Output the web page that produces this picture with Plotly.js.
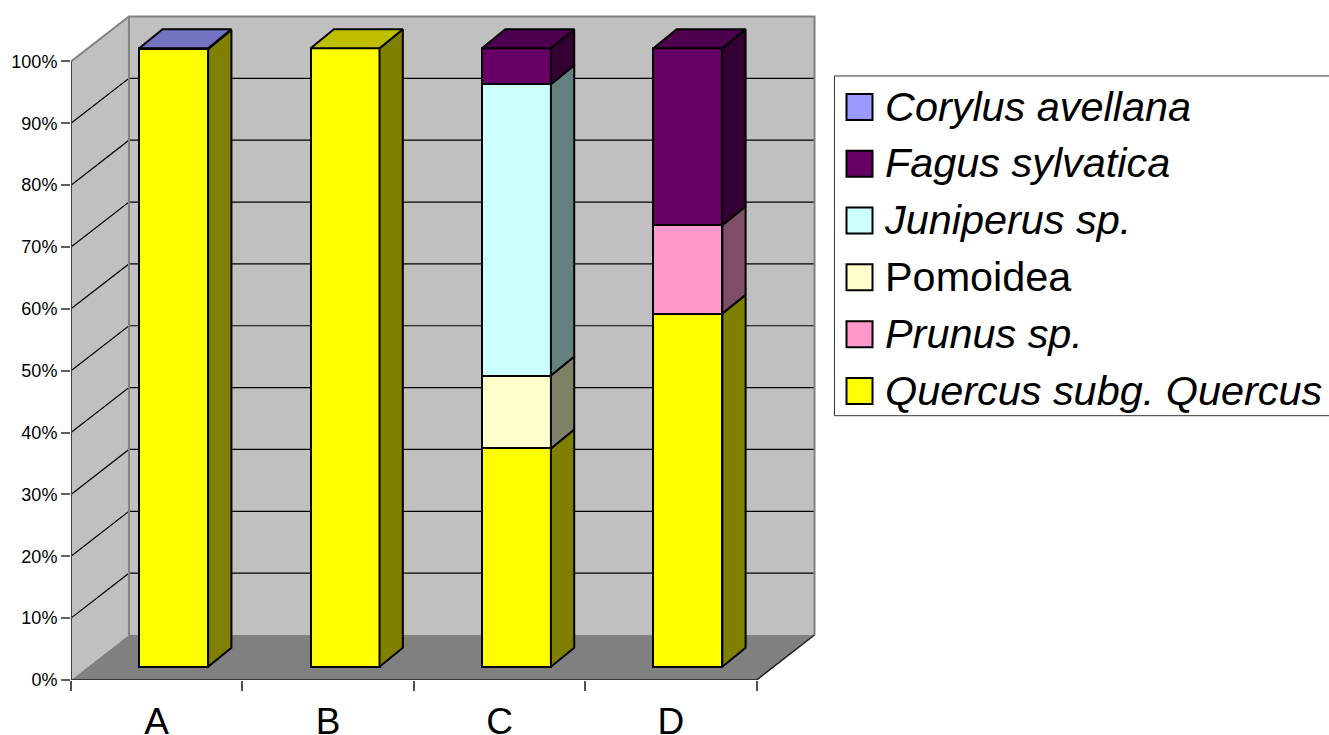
<!DOCTYPE html>
<html>
<head>
<meta charset="utf-8">
<script src="https://cdn.plot.ly/plotly-3.0.1.min.js"></script>
<style>html,body{margin:0;padding:0;background:#fff;overflow:hidden}</style>
</head>
<body>
<div id="chart" style="width:1329px;height:735px"></div>
<script>
// ---- data (percent of each sample) ----
const categories = ['A', 'B', 'C', 'D'];
const quercus   = [99.9, 100, 35.3, 57.1];
const prunus    = [0, 0, 0, 14.3];
const pomoidea  = [0, 0, 11.8, 0];
const juniperus = [0, 0, 47.1, 0];
const fagus     = [0, 0, 5.8, 28.6];
const corylus   = [0.1, 0, 0, 0];
const yTicks = [0, 10, 20, 30, 40, 50, 60, 70, 80, 90, 100];
const xBoundaries = [0, 1, 2, 3, 4];

const series = [
  {name: '<i>Quercus subg. Quercus</i>', v: quercus,   front: '#ffff00', side: '#808000', top: '#bfbf00'},
  {name: '<i>Prunus sp.</i>',            v: prunus,    front: '#ff99cc', side: '#804d66', top: '#bf7399'},
  {name: 'Pomoidea',                     v: pomoidea,  front: '#ffffcc', side: '#808066', top: '#bfbf99'},
  {name: '<i>Juniperus sp.</i>',         v: juniperus, front: '#ccffff', side: '#668080', top: '#99bfbf'},
  {name: '<i>Fagus sylvatica</i>',       v: fagus,     front: '#660066', side: '#330033', top: '#4d004d'},
  {name: '<i>Corylus avellana</i>',      v: corylus,   front: '#9999ff', side: '#4d4d80', top: '#7373bf'}
];

// ---- oblique projection, in axis units ----
const DX = 0.338, DY = 7.27;            // full floor depth
const barDX = 0.099, barDY = 2.13;      // front of bar, from the front plane
const sideDX = 0.136, sideDY = 3.07;    // depth of bar
const barW = 0.402;
const xMax = 4.370, yMax = 108.16;

const barCenter = i => i + 0.5 + barDX;
const cum = categories.map(() => 0);
const stackTop = categories.map((_, i) => {
  let t = -1; series.forEach((s, k) => { if (s.v[i] > 0) t = k; }); return t;
});

const barTraces = [], faceTraces = [];
series.forEach((s, k) => {
  const bx = [], by = [], bb = [];
  const sideX = [], sideY = [], topX = [], topY = [];
  categories.forEach((_, i) => {
    const val = s.v[i];
    if (!(val > 0)) return;
    const y0 = cum[i] + barDY, y1 = y0 + val;
    cum[i] += val;
    const xr = barCenter(i) + barW / 2, xl = barCenter(i) - barW / 2;
    bx.push(barCenter(i)); by.push(val); bb.push(y0);
    sideX.push(xr, xr + sideDX, xr + sideDX, xr, xr, null);
    sideY.push(y0, y0 + sideDY, y1 + sideDY, y1, y0, null);
    if (stackTop[i] === k) {
      topX.push(xl, xr, xr + sideDX, xl + sideDX, xl, null);
      topY.push(y1, y1, y1 + sideDY, y1 + sideDY, y1, null);
    }
  });
  barTraces.push({type: 'bar', name: s.name, x: bx, y: by, base: bb, width: barW,
    marker: {color: s.front, line: {color: '#000', width: 2}}, hoverinfo: 'skip'});
  [[sideX, sideY, s.side], [topX, topY, s.top]].forEach(f => {
    if (!f[0].length) return;
    faceTraces.push({type: 'scatter', mode: 'lines', x: f[0], y: f[1], fill: 'toself', fillcolor: f[2],
      line: {color: '#000', width: 2}, showlegend: false, hoverinfo: 'skip', cliponaxis: false});
  });
});

// ---- walls, floor, gridlines ----
const poly = (pts, fill, lineColor, w) => ({
  type: 'path', layer: 'below', xref: 'x', yref: 'y',
  path: 'M' + pts.map(p => p[0] + ',' + p[1]).join('L') + 'Z',
  fillcolor: fill, line: {color: lineColor, width: w}
});
const seg = (pts, color, w) => ({
  type: 'path', layer: 'below', xref: 'x', yref: 'y',
  path: 'M' + pts.map(p => p[0] + ',' + p[1]).join('L'),
  line: {color: color, width: w}
});
const xEnd = categories.length;
const shapes = [
  poly([[DX, DY], [xEnd + DX, DY], [xEnd + DX, 100 + DY], [DX, 100 + DY]], '#c0c0c0', 'rgba(0,0,0,0)', 0),
  poly([[0, 0], [DX, DY], [DX, 100 + DY], [0, 100]], '#c0c0c0', 'rgba(0,0,0,0)', 0),
  poly([[0, 0], [xEnd, 0], [xEnd + DX, DY], [DX, DY]], '#808080', 'rgba(0,0,0,0)', 0)
];
yTicks.slice(1, -1).forEach(t => {
  shapes.push(seg([[0, t], [DX, t + DY], [xEnd + DX, t + DY]], '#000', 1.2));
});
shapes.push(seg([[0, 100], [DX, 100 + DY], [xEnd + DX, 100 + DY], [xEnd + DX, DY]], '#808080', 2));
shapes.push(seg([[DX, DY], [DX, 100 + DY]], '#808080', 2));
shapes.push(seg([[0, 0], [0, 100]], '#404040', 2));
shapes.push(seg([[0, 0], [xEnd, 0], [xEnd + DX, DY]], '#202020', 1.5));
// legend frame: its right side runs off the page
shapes.push({type: 'path', xref: 'paper', yref: 'paper', layer: 'above',
  path: 'M' + (1400 - 70.5) / 749.5 + ',' + (680.5 - 76) / 669.5 +
        'L' + (834.5 - 70.5) / 749.5 + ',' + (680.5 - 76) / 669.5 +
        'L' + (834.5 - 70.5) / 749.5 + ',' + (680.5 - 416) / 669.5 +
        'L' + (1400 - 70.5) / 749.5 + ',' + (680.5 - 416) / 669.5,
  line: {color: '#333', width: 1}});

const layout = {
  width: 1329, height: 735,
  margin: {l: 70.5, r: 509, t: 11, b: 54.5, pad: 0},
  paper_bgcolor: '#fff', plot_bgcolor: 'rgba(0,0,0,0)',
  barmode: 'overlay', bargap: 0,
  font: {family: '"Liberation Sans", Arial, sans-serif', color: '#000'},
  showlegend: true,
  legend: {
    xref: 'container', yref: 'container', x: 834 / 1329, y: 1 - 71 / 735,
    xanchor: 'left', yanchor: 'top', traceorder: 'reversed',
    bgcolor: 'rgba(0,0,0,0)', borderwidth: 0,
    font: {size: 41.4, color: '#000'}, itemwidth: 41, itemclick: false, itemdoubleclick: false,
    entrywidth: 480, entrywidthmode: 'pixels', tracegroupgap: 0
  },
  xaxis: {
    type: 'linear', range: [0, xMax], showgrid: false, zeroline: false, showline: false,
    tickmode: 'array', tickvals: categories.map((_, i) => i + 0.5), ticktext: categories,
    ticks: '', tickfont: {size: 37}, ticklabelstandoff: 16,
    minor: {tickmode: 'array', tickvals: xBoundaries, ticks: 'outside', ticklen: 10, tickwidth: 1.5, tickcolor: '#505050', showgrid: false}
  },
  yaxis: {
    range: [0, yMax], showgrid: false, zeroline: false, showline: false,
    tickmode: 'array', tickvals: yTicks, ticktext: yTicks.map(t => t + '%'),
    ticks: 'outside', ticklen: 9, tickwidth: 1.5, tickcolor: '#606060', tickfont: {size: 18}
  },
  shapes: shapes
};

Plotly.newPlot('chart', barTraces.concat(faceTraces), layout, {displayModeBar: false}).then(gd => {
  // enlarge the legend swatches to the reference's size
  gd.querySelectorAll('.legend .legendpoints path').forEach(p => {
    p.setAttribute('d', 'M13,15.5H-13V-10.5H13Z');
    p.style.strokeWidth = '2px';
  });
});
</script>
</body>
</html>
